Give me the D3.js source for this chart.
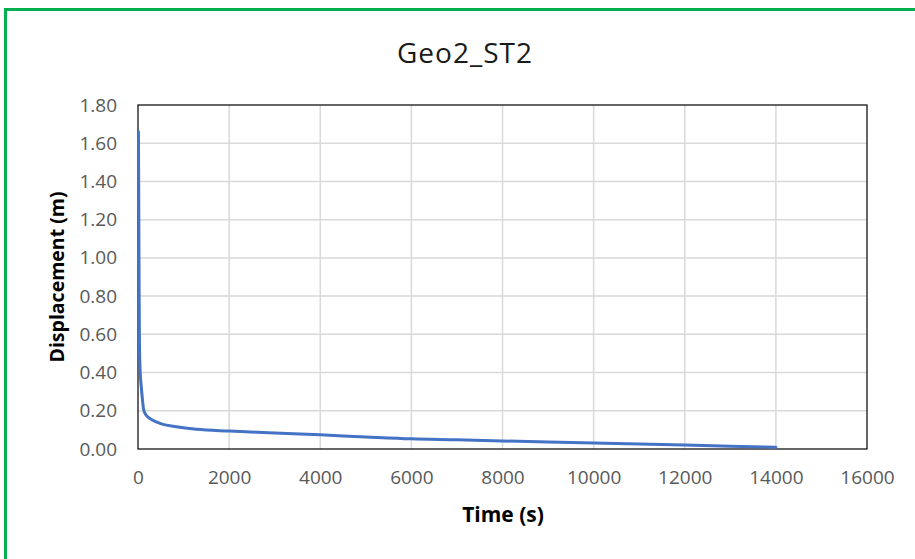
<!DOCTYPE html>
<html>
<head>
<meta charset="utf-8">
<script src="https://cdn.jsdelivr.net/npm/d3@7"></script>
<style>
  html, body { margin: 0; padding: 0; background: #fff; }
  svg { display: block; }
</style>
</head>
<body>
<svg id="chart" width="915" height="559"></svg>
<script>
const chartTitle = "Geo2_ST2";
const xAxisTitle = "Time (s)";
const yAxisTitle = "Displacement (m)";
const xTicks = [0, 2000, 4000, 6000, 8000, 10000, 12000, 14000, 16000];
const yTicks = [0, 0.2, 0.4, 0.6, 0.8, 1.0, 1.2, 1.4, 1.6, 1.8];
const timeS = [10, 18, 25, 32, 45, 70, 95, 125, 180, 257, 400, 549, 800, 1281, 2013, 3000, 4000, 5000, 6000, 7000, 8000, 9000, 10000, 11000, 12000, 13000, 14000];
const displacementM = [1.66, 1.2, 0.8, 0.55, 0.42, 0.33, 0.265, 0.205, 0.177, 0.16, 0.142, 0.129, 0.118, 0.103, 0.094, 0.084, 0.074, 0.063, 0.053, 0.048, 0.042, 0.036, 0.031, 0.026, 0.021, 0.015, 0.009];

const svg = d3.select("#chart");
const W = 915, H = 559;
const plot = { left: 138, right: 867, top: 105, bottom: 449 };

// green frame
svg.append("line").attr("x1", 5.5).attr("x2", W).attr("y1", 9.5).attr("y2", 9.5)
  .attr("stroke", "#00B050").attr("stroke-width", 3);
svg.append("line").attr("x1", 5.5).attr("x2", 5.5).attr("y1", 8).attr("y2", H)
  .attr("stroke", "#00B050").attr("stroke-width", 3);

const x = d3.scaleLinear().domain([0, 16000]).range([plot.left, plot.right]);
const y = d3.scaleLinear().domain([0, 1.8]).range([plot.bottom, plot.top]);

// gridlines
const g = svg.append("g");
g.selectAll(".vg").data(xTicks.slice(1, -1)).join("line")
  .attr("x1", d => x(d)).attr("x2", d => x(d))
  .attr("y1", plot.top).attr("y2", plot.bottom)
  .attr("stroke", "#d9d9d9").attr("stroke-width", 1.5);
g.selectAll(".hg").data(yTicks.slice(1, -1)).join("line")
  .attr("x1", plot.left).attr("x2", plot.right)
  .attr("y1", d => y(d)).attr("y2", d => y(d))
  .attr("stroke", "#d9d9d9").attr("stroke-width", 1.5);

// axes (labels only)
const fontFam = "'Open Sans', 'Noto Sans', sans-serif";
const xAxis = d3.axisBottom(x).tickValues(xTicks).tickSize(0).tickPadding(22).tickFormat(d3.format("d"));
const yAxis = d3.axisLeft(y).tickValues(yTicks).tickSize(0).tickPadding(21).tickFormat(d3.format(".2f"));
const xg = svg.append("g").attr("transform", `translate(0,${plot.bottom})`).call(xAxis);
const yg = svg.append("g").attr("transform", `translate(${plot.left},0)`).call(yAxis);
[xg, yg].forEach(a => {
  a.select(".domain").remove();
  a.selectAll("text").attr("fill", "#595959").style("font-family", fontFam).style("font-size", "19px");
});

// plot border
svg.append("rect").attr("x", plot.left).attr("y", plot.top)
  .attr("width", plot.right - plot.left).attr("height", plot.bottom - plot.top)
  .attr("fill", "none").attr("stroke", "#000").attr("stroke-width", 1.2);

// line
const line = d3.line().x((d, i) => x(timeS[i])).y(d => y(d)).curve(d3.curveMonotoneX);
svg.append("path").datum(displacementM).attr("d", line)
  .attr("fill", "none").attr("stroke", "#4472C4").attr("stroke-width", 3)
  .attr("stroke-linejoin", "round").attr("stroke-linecap", "round");

// titles
svg.append("text").attr("x", 465).attr("y", 63).attr("text-anchor", "middle")
  .style("font-family", fontFam).style("font-size", "28px").style("letter-spacing", "1px").attr("fill", "#1a1a1a")
  .text(chartTitle);
svg.append("text").attr("x", 503).attr("y", 522).attr("text-anchor", "middle")
  .style("font-family", fontFam).style("font-size", "21px").style("font-weight", "bold").attr("fill", "#000")
  .text(xAxisTitle);
svg.append("text").attr("transform", `translate(64,277) rotate(-90)`).attr("text-anchor", "middle")
  .style("font-family", fontFam).style("font-size", "19.5px").style("font-weight", "bold").attr("fill", "#000")
  .text(yAxisTitle);
</script>
</body>
</html>
